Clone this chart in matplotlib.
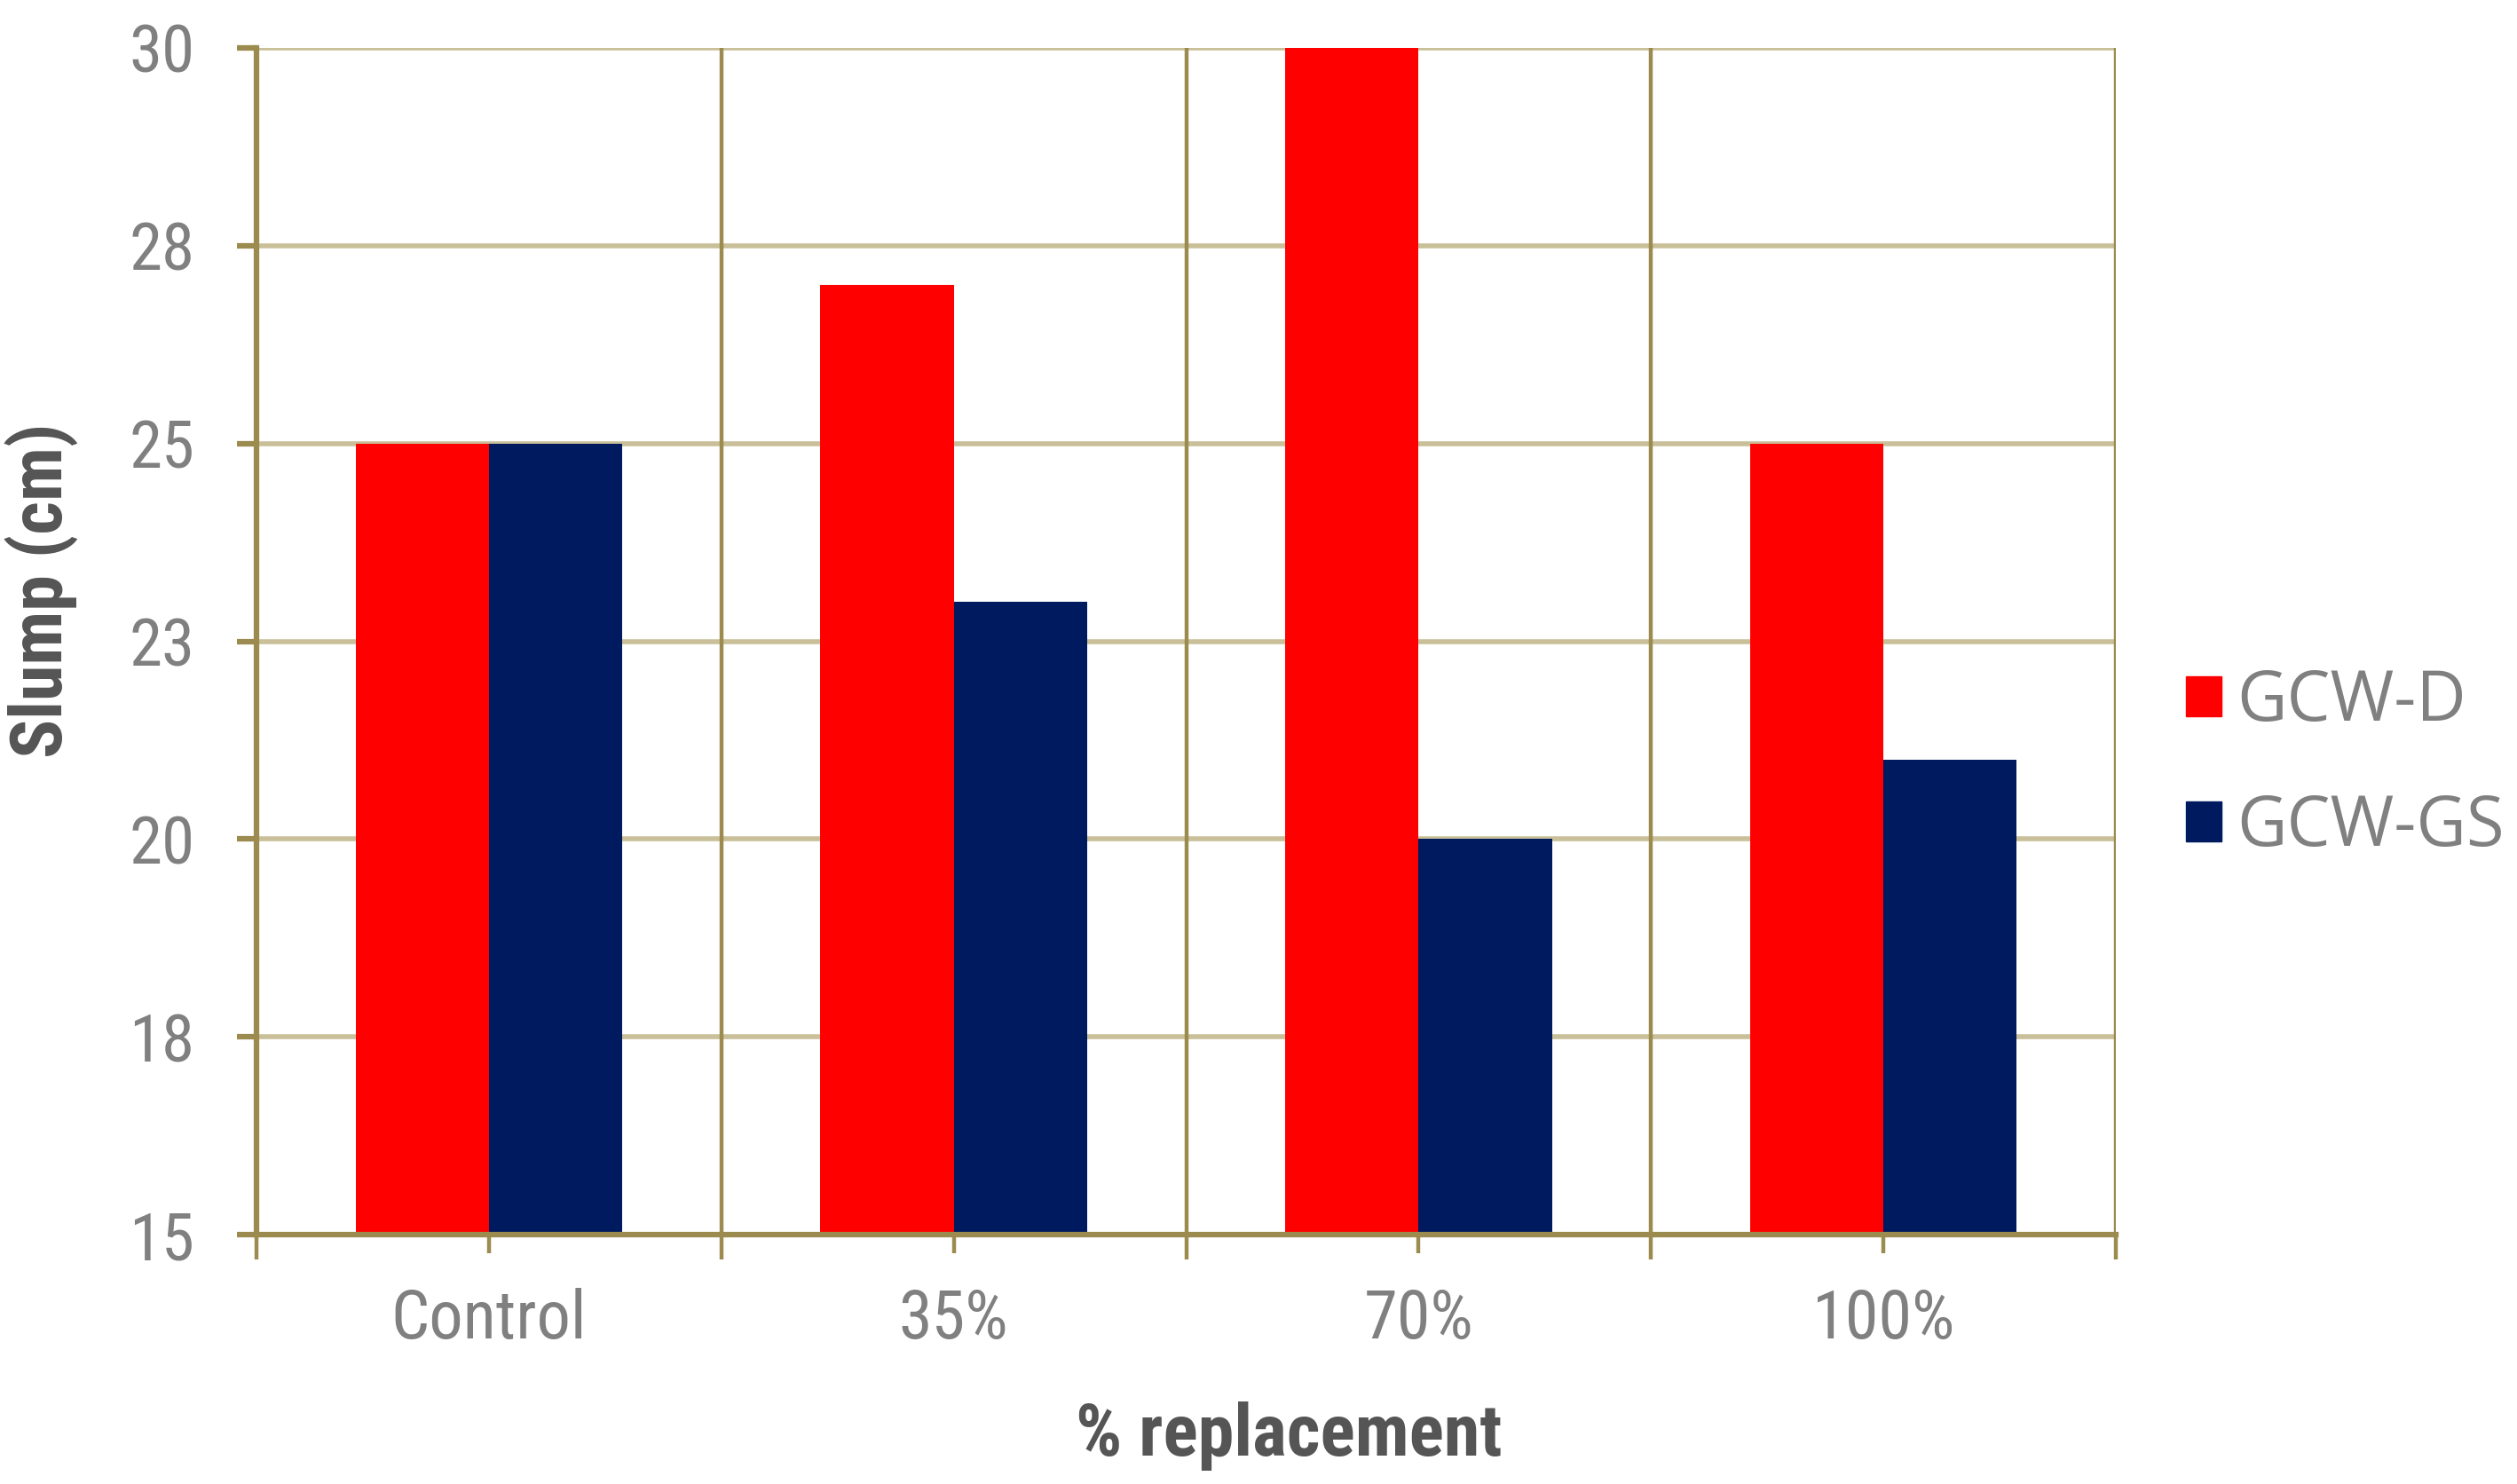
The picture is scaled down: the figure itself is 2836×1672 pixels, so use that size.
import matplotlib
matplotlib.use("Agg")
import matplotlib.pyplot as plt
from matplotlib import font_manager as fm
import numpy as np
from matplotlib.patches import Patch

categories = ["Control", "35%", "70%", "100%"]
gcw_d = [25, 27, 30, 25]
gcw_gs = [25, 23, 20, 21]
series_names = ["GCW-D", "GCW-GS"]
y_ticks = [15, 17.5, 20, 22.5, 25, 27.5, 30]
y_tick_labels = ["15", "18", "20", "23", "25", "28", "30"]

# pick a condensed sans if one is installed
names = {f.name for f in fm.fontManager.ttflist}
cond_fams = [n for n in ["Liberation Sans Narrow", "Arial Narrow", "Roboto Condensed",
                         "DejaVu Sans Condensed", "Noto Sans Condensed",
                         "Open Sans Condensed", "Liberation Sans"] if n in names]
narrow_name = cond_fams[0] if cond_fams else "DejaVu Sans"
narrow = [narrow_name, "DejaVu Sans"]
stretch = "normal"
if narrow_name == "Liberation Sans":
    for f in fm.fontManager.ttflist:
        st = f.stretch
        if f.name in ("Noto Sans", "Roboto", "Open Sans") and (
                (isinstance(st, str) and "condensed" in st) or (isinstance(st, int) and st < 500)):
            narrow = [f.name, "DejaVu Sans"]
            stretch = "condensed"
            break

W, H = 2836, 1672
fig = plt.figure(figsize=(W / 100, H / 100), dpi=100)
L, R, T, B = 289, 2384, 54, 1391
ax = fig.add_axes([L / W, 1 - B / H, (R - L) / W, (B - T) / H])

axis_col = "#9C8B4F"
grid_col = "#C9BF98"
red = "#FF0000"
navy = "#001A60"

x = np.arange(len(categories))
bw = 0.287
ax.bar(x - bw / 2, np.array(gcw_d) - 15, bw, bottom=15, color=red, zorder=3, label=series_names[0])
ax.bar(x + bw / 2, np.array(gcw_gs) - 15, bw, bottom=15, color=navy, zorder=3, label=series_names[1])

ax.set_xlim(-0.5, len(categories) - 0.5)
ax.set_ylim(15, 30)

for yv in y_ticks[1:]:
    ax.axhline(yv, color=grid_col, lw=4.0, zorder=1)
for xb in np.arange(0.5, len(categories), 1.0):
    ax.axvline(xb, color=axis_col, lw=3.2, zorder=1)

for s in ["top", "right"]:
    ax.spines[s].set_visible(False)
for s in ["left", "bottom"]:
    ax.spines[s].set_color(axis_col)
    ax.spines[s].set_linewidth(4.5)
    ax.spines[s].set_zorder(4)

ax.set_yticks(y_ticks)
ax.set_yticklabels(y_tick_labels)
ax.tick_params(axis="y", length=16, width=4.5, color=axis_col, pad=34,
               labelsize=54, labelcolor="#808080")
for t in ax.get_yticklabels():
    t.set_family(narrow)
    t.set_stretch(stretch)

ax.set_xticks(np.arange(-0.5, len(categories), 1.0))
ax.set_xticklabels([])
ax.set_xticks(x, minor=True)
ax.set_xticklabels(categories, minor=True)
ax.tick_params(axis="x", which="major", length=20, width=3.2, color=axis_col)
ax.tick_params(axis="x", which="minor", length=15, width=3.2, color=axis_col, pad=28,
               labelsize=55, labelcolor="#808080")
for t in ax.get_xticklabels(minor=True):
    t.set_family(narrow)
    t.set_stretch(stretch)

ax.set_xlabel("% replacement", fontsize=59, fontweight="bold", color="#555555",
              family=narrow, fontstretch=stretch)
ax.xaxis.set_label_coords((1452 - L) / (R - L), (B - 1618) / (B - T))
ax.xaxis.label.set_va("center")
ax.set_ylabel("Slump (cm)", fontsize=59, fontweight="bold", color="#555555",
              family=narrow, fontstretch=stretch)
ax.yaxis.set_label_coords((47 - L) / (R - L), (B - 665) / (B - T))
ax.yaxis.label.set_va("center")

handles = [Patch(color=red), Patch(color=navy)]
fig.legend(handles, series_names, loc="center left",
           bbox_to_anchor=(2463 / W, 1 - 862 / H), frameon=False,
           prop={"family": ["Open Sans", "DejaVu Sans"], "size": 56},
           labelcolor="#808080", handlelength=0.52, handleheight=0.52,
           handletextpad=0.22, labelspacing=0.8, borderpad=0, borderaxespad=0)

fig.savefig("out.png", dpi=100, facecolor="white")
